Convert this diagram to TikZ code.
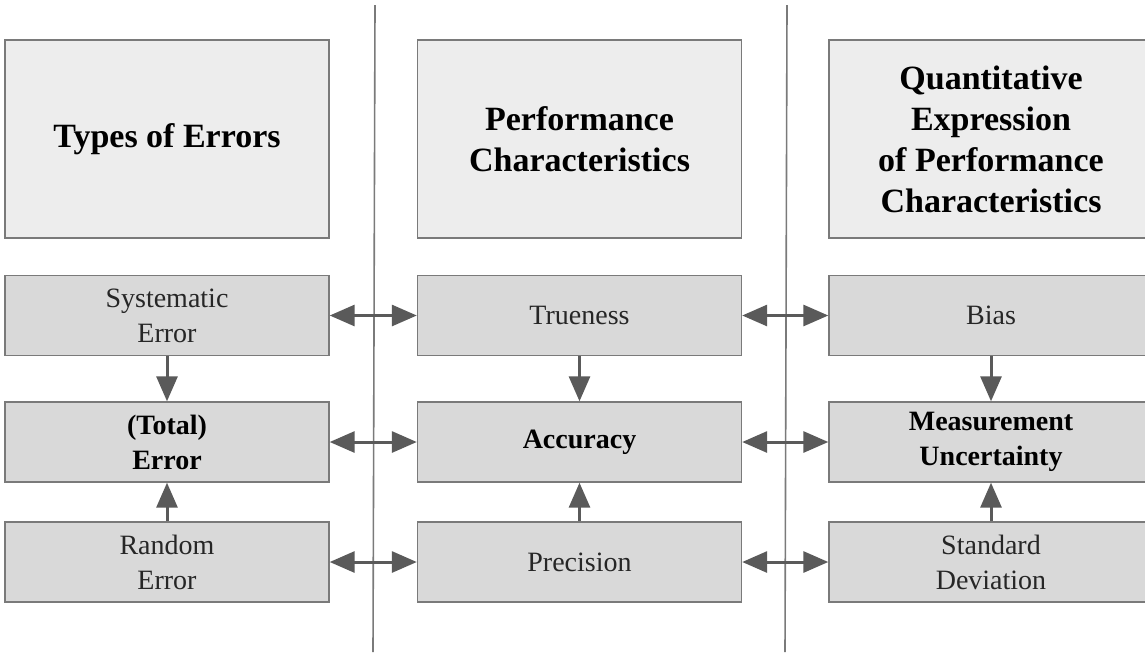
\documentclass[tikz,border=0pt]{standalone}
\usepackage{fontspec}
\setmainfont{Liberation Serif}
\usetikzlibrary{arrows.meta}
\definecolor{headfill}{HTML}{EDEDED}
\definecolor{rowfill}{HTML}{D9D9D9}
\definecolor{edge}{HTML}{7A7A7A}
\definecolor{arrowc}{HTML}{5A5A5A}
\definecolor{plaintext}{HTML}{262626}
\tikzset{
  headbox/.style={draw=edge, line width=1.4pt, fill=headfill, minimum width=324pt,
    minimum height=198pt, inner sep=0pt, align=center,
    font=\fontsize{34}{41}\selectfont\bfseries, text=black},
  rowbox/.style={draw=edge, line width=1.4pt, fill=rowfill, minimum width=324pt,
    minimum height=80pt, inner sep=0pt, align=center,
    font=\fontsize{28}{35}\selectfont, text=plaintext},
  keybox/.style={rowbox, font=\fontsize{28}{35}\selectfont\bfseries, text=black},
  divider/.style={draw=edge, line width=1.6pt},
  link/.style={draw=arrowc, line width=3pt, -{Triangle[length=25pt,width=21pt]}},
  dlink/.style={draw=arrowc, line width=3pt, {Triangle[length=25pt,width=21pt]}-{Triangle[length=25pt,width=21pt]}}
}
\begin{document}
\begin{tikzpicture}[x=1pt, y=-1pt]
\clip (0,0) rectangle (1145,657);
\fill[white] (0,0) rectangle (1145,657);

% column dividers
\coordinate (d1t) at (375,5);
\coordinate (d1b) at (373,652);
\coordinate (d2t) at (787,5);
\coordinate (d2b) at (785,652);
\draw[divider] (d1t) -- (d1b);
\draw[divider] (d2t) -- (d2b);

% column headings
\node[headbox] (h1) at (167,139) {Types of Errors};
\node[headbox] (h2) at (579.5,139) {Performance\\Characteristics};
\node[headbox] (h3) at (991,139) {Quantitative\\Expression\\of Performance\\Characteristics};

% types of errors
\node[rowbox] (e1) at (167,315.5) {Systematic\\Error};
\node[keybox] (e2) at (167,442) {(Total)\\Error};
\node[rowbox] (e3) at (167,562) {Random\\Error};

% performance characteristics
\node[rowbox] (p1) at (579.5,315.5) {Trueness};
\node[keybox] (p2) at (579.5,442) {Accuracy};
\node[rowbox] (p3) at (579.5,562) {Precision};

% quantitative expressions
\node[rowbox] (q1) at (991,315.5) {Bias};
\node[keybox] (q2) at (991,442) {Measurement\\Uncertainty};
\node[rowbox] (q3) at (991,562) {Standard\\Deviation};

% vertical relations
\foreach \c in {e,p,q}{
  \draw[link] (\c1.south) -- (\c2.north);
  \draw[link] (\c3.north) -- (\c2.south);
}

% horizontal correspondences
\foreach \r in {1,2,3}{
  \draw[dlink] (e\r.east) -- (p\r.west);
  \draw[dlink] (p\r.east) -- (q\r.west);
}
\end{tikzpicture}
\end{document}
